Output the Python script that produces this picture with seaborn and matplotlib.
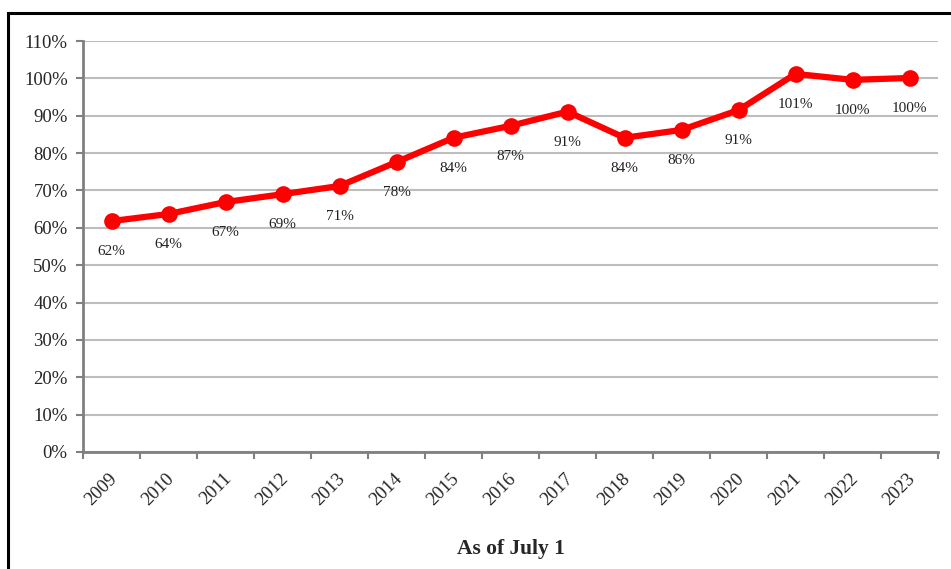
import matplotlib
matplotlib.use("Agg")
import matplotlib.pyplot as plt
import matplotlib.patches as patches
from matplotlib.ticker import FixedLocator, PercentFormatter
import pandas as pd
import seaborn as sns

# data
years = ["2009", "2010", "2011", "2012", "2013", "2014", "2015", "2016",
         "2017", "2018", "2019", "2020", "2021", "2022", "2023"]
values = [61.8, 63.7, 66.9, 69.0, 71.2, 77.6, 84.1, 87.3,
          91.1, 84.1, 86.2, 91.5, 101.2, 99.6, 100.1]
labels = ["62%", "64%", "67%", "69%", "71%", "78%", "84%", "87%",
          "91%", "84%", "86%", "91%", "101%", "100%", "100%"]

df = pd.DataFrame({"pos": range(len(years)), "Year": years, "Value": values})

sns.set_theme(style="white")
plt.rcParams['font.family'] = ['Liberation Serif', 'DejaVu Serif']

fig = plt.figure(figsize=(9.51, 5.69), dpi=100)
ax = fig.add_axes([83/951, 1-452/569, (938-83)/951, (452-41)/569])

sns.lineplot(data=df, x="pos", y="Value", color="#ff0000", linewidth=4.5,
             marker="o", markersize=12, markeredgewidth=0, ax=ax)

for i, row in df.iterrows():
    ax.annotate(labels[i], (row["pos"], row["Value"]), xytext=(0, -22),
                textcoords="offset points", ha="center", va="center",
                fontsize=11, color="#222222")

ax.set_xlim(-0.5, len(years) - 0.5)
ax.set_ylim(0, 110)
ax.set_yticks(range(0, 111, 10))
ax.yaxis.set_major_formatter(PercentFormatter(decimals=0))
ax.yaxis.grid(True, color="#bdbdbd", linewidth=1.5)
ax.set_axisbelow(True)

# tick marks at category boundaries, labels at centres
ax.xaxis.set_major_locator(FixedLocator([p - 0.5 for p in range(len(years) + 1)]))
ax.xaxis.set_major_formatter(plt.NullFormatter())
ax.xaxis.set_minor_locator(FixedLocator([p - 0.05 for p in range(len(years))]))
ax.set_xticklabels(years, minor=True, rotation=45, fontsize=13.5,
                   ha="right", va="top", rotation_mode="anchor")
ax.tick_params(axis="x", which="minor", length=0, pad=13)
ax.tick_params(axis="x", which="major", length=5, width=1.5, color="#808080", direction="out", bottom=True)
ax.tick_params(axis="y", length=5, width=1.5, color="#808080", direction="out", left=True, labelsize=13.5, pad=6)

for s in ["top", "right"]:
    ax.spines[s].set_visible(False)
for s in ["left", "bottom"]:
    ax.spines[s].set_color("#808080")
    ax.spines[s].set_linewidth(2)

ax.set_ylabel("")
ax.set_xlabel("As of July 1", fontsize=15.5, fontweight="bold", labelpad=22)

frame = patches.Rectangle((8/951, -0.05), 1.1, 1 - 13/569 + 0.05,
                          transform=fig.transFigure, fill=False,
                          edgecolor="black", linewidth=2.2, clip_on=False)
fig.patches.append(frame)

fig.savefig("out.png", dpi=100)
